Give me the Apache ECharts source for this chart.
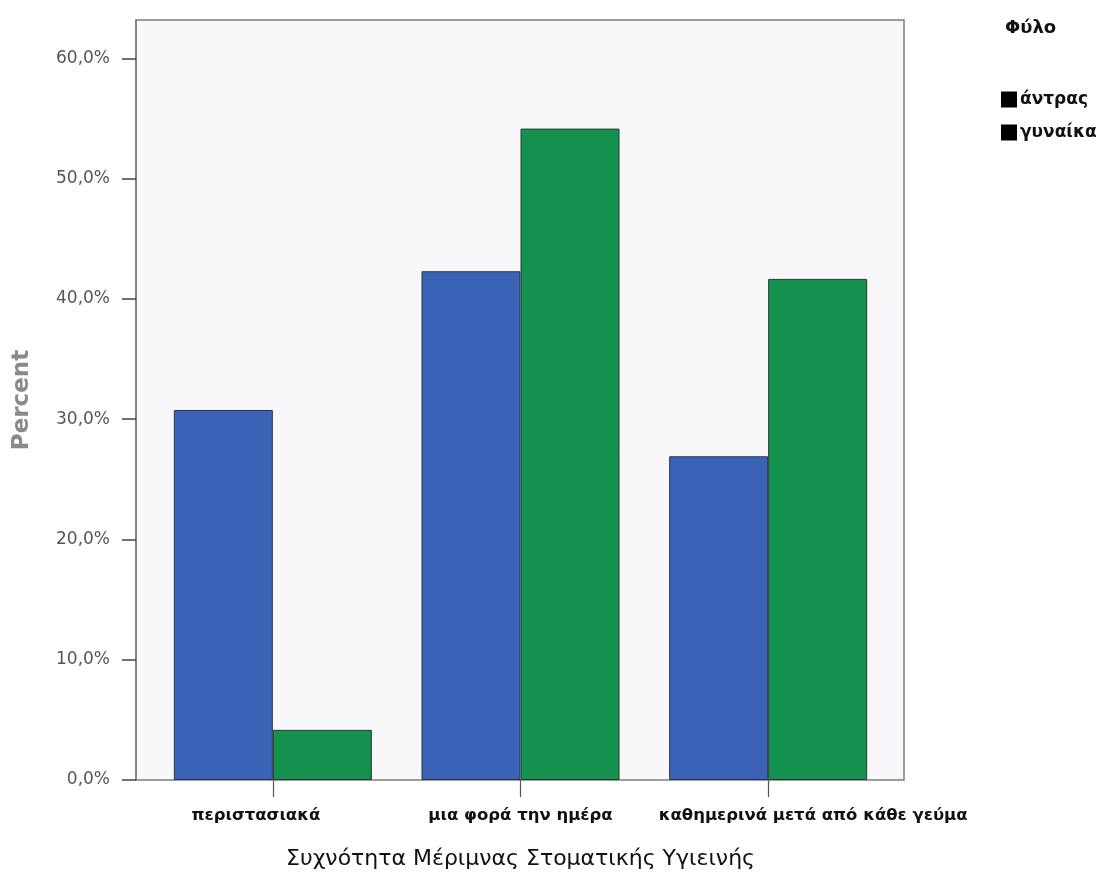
<!DOCTYPE html>
<html>
<head>
<meta charset="utf-8">
<script src="https://cdn.jsdelivr.net/npm/echarts@6/dist/echarts.min.js"></script>
<style>
  html, body { margin: 0; padding: 0; background: #fff; }
  #chart { width: 1108px; height: 890px; }
</style>
</head>
<body>
<div id="chart"></div>
<script>
// Oral hygiene frequency by sex (percent within each sex)
const categories = ['περιστασιακά', 'μια φορά την ημέρα', 'καθημερινά μετά από κάθε γεύμα'];
const men = [30.77, 42.31, 26.92];
const women = [4.17, 54.17, 41.67];
const seriesNames = ['άντρας', 'γυναίκα'];
const yTicks = [0, 10, 20, 30, 40, 50, 60];

const FONT = 'DejaVu Sans, Verdana, sans-serif';
const Y_MAX = 63.2;

// nudge the outer category labels so the long one clears its neighbour
const labelPadding = [[0, 34, 0, 0], [0, 0, 0, 0], [0, 0, 0, 90]];
const categoryData = categories.map((c, i) => ({ value: c, textStyle: { padding: labelPadding[i] } }));

const chart = echarts.init(document.getElementById('chart'), null, { renderer: 'canvas' });

chart.setOption({
  backgroundColor: '#ffffff',
  animation: false,
  title: {
    text: 'Φύλο',
    left: 1000,
    top: 14,
    textStyle: { fontFamily: FONT, fontSize: 18, fontWeight: 'bold', color: '#111' }
  },
  legend: {
    orient: 'vertical',
    left: 996,
    top: 86,
    itemWidth: 16,
    itemHeight: 16,
    itemGap: 16,
    icon: 'rect',
    textStyle: { fontFamily: FONT, fontSize: 17, fontWeight: 'bold', color: '#111', padding: [0, 0, 0, -2] },
    data: seriesNames.map(n => ({ name: n, itemStyle: { color: '#000', borderWidth: 0 } }))
  },
  grid: [
    // frame and percent scale
    { left: 136, top: 20, width: 768, height: 760, show: true,
      borderColor: '#7d7d7d', borderWidth: 1.5, backgroundColor: '#f8f8fb' },
    // category band, inset inside the frame
    { left: 149, top: 20, width: 743, height: 760 }
  ],
  xAxis: [
    { gridIndex: 0, type: 'value', show: false, min: 0, max: 1 },
    {
      gridIndex: 1,
      type: 'category',
      data: categoryData,
      axisLine: { show: false },
      axisTick: { show: true, interval: 0, alignWithLabel: true, length: 17, lineStyle: { color: '#555', width: 1.2 } },
      axisLabel: { interval: 0, margin: 27, fontFamily: FONT, fontSize: 16.5, fontWeight: 'bold', color: '#111' },
      name: 'Συχνότητα Μέριμνας Στοματικής Υγιεινής',
      nameLocation: 'middle',
      nameGap: 68,
      nameTextStyle: { fontFamily: FONT, fontSize: 22, color: '#111' }
    }
  ],
  yAxis: [
    {
      gridIndex: 0,
      type: 'value',
      min: 0,
      max: Y_MAX,
      interval: 10,
      axisLine: { show: true, lineStyle: { color: '#7d7d7d', width: 1.5 } },
      axisTick: { show: true, length: 14, lineStyle: { color: '#444', width: 1.5 } },
      splitLine: { show: false },
      axisLabel: {
        margin: 26,
        showMaxLabel: false,
        fontFamily: FONT, fontSize: 17, color: '#555',
        formatter: v => yTicks.includes(v) ? v.toFixed(1).replace('.', ',') + '%' : ''
      },
      name: 'Percent',
      nameLocation: 'middle',
      nameGap: 102,
      nameRotate: 90,
      nameTextStyle: { fontFamily: FONT, fontSize: 23, fontWeight: 'bold', color: '#8a8a8a' }
    },
    { gridIndex: 1, type: 'value', min: 0, max: Y_MAX, show: false, splitLine: { show: false } }
  ],
  series: [
    {
      name: seriesNames[0],
      type: 'bar',
      xAxisIndex: 1,
      yAxisIndex: 1,
      data: men,
      barWidth: 99,
      barGap: '0%',
      itemStyle: { color: '#3a63b8', borderColor: '#2b3545', borderWidth: 1 }
    },
    {
      name: seriesNames[1],
      type: 'bar',
      xAxisIndex: 1,
      yAxisIndex: 1,
      data: women,
      barWidth: 99,
      barGap: '0%',
      itemStyle: { color: '#14904f', borderColor: '#2b3a35', borderWidth: 1 }
    }
  ]
});
</script>
</body>
</html>
